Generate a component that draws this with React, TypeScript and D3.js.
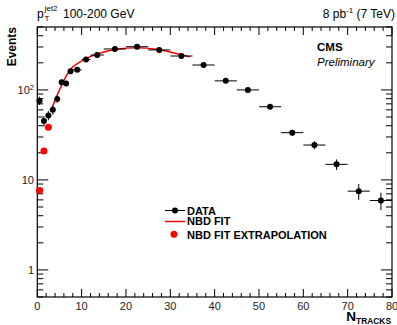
import React, { useEffect, useRef } from "react";
import * as d3 from "d3";

// data
const binCenters = [0.5, 1.5, 2.5, 3.5, 4.5, 5.5, 6.5, 7.5, 9, 11, 13.5, 17.5, 22.5, 27.5, 32.5, 37.5, 42.5, 47.5, 52.5, 57.5, 62.5, 67.5, 72.5, 77.5];
const binLow = [0, 1, 2, 3, 4, 5, 6, 7, 8, 10, 12, 15, 20, 25, 30, 35, 40, 45, 50, 55, 60, 65, 70, 75];
const binHigh = [1, 2, 3, 4, 5, 6, 7, 8, 10, 12, 15, 20, 25, 30, 35, 40, 45, 50, 55, 60, 65, 70, 75, 80];
const events = [76, 45, 52, 60, 79, 122, 118, 161, 167, 218, 244, 285, 302, 278, 238, 189, 126, 100, 65, 33.5, 24.4, 14.9, 7.5, 5.9];
const eventErr = [8, 6, 6, 7, 7, 8, 8, 8, 7, 7, 6, 5, 5, 5, 5, 4, 4, 4, 3, 2.5, 2.5, 2, 1.5, 1.3];

const fitN = [3.2, 5.5, 7.7, 11.1, 14.1, 17.9, 22.4, 26.9, 30.6, 34.4];
const fitEvents = [61, 113, 174, 224, 255, 283, 294, 283, 259, 234];

const extrapN = [0.5, 1.5, 2.5];
const extrapEvents = [7.65, 20.9, 38.5];

const xTicks = [0, 10, 20, 30, 40, 50, 60, 70, 80];
const yTicks = [1, 10, 100];

const FONT = "Liberation Sans, Arial, Helvetica, sans-serif";

function App() {
  const svgRef = useRef<SVGSVGElement>(null);

  useEffect(() => {
    const W = 397;
    const H = 325;
    const M = { left: 37.3, right: 5, top: 27, bottom: 28 };

    const svg = d3.select(svgRef.current).attr("width", W).attr("height", H);
    svg.selectAll("*").remove();
    svg.append("rect").attr("width", W).attr("height", H).attr("fill", "#fff");

    const x = d3.scaleLinear().domain([0, 80]).range([M.left, W - M.right]);
    const y = d3.scaleLog().domain([0.5, 500]).range([H - M.bottom, M.top]);

    const g = svg.append("g").attr("font-family", FONT);

    // ticks (ROOT style, inside the frame, mirrored)
    const x0 = x(0), x1 = x(80), y0 = y(0.5), y1 = y(500);
    d3.range(0, 81, 2).forEach((t) => {
      const len = t % 10 === 0 ? 8 : 4;
      g.append("line").attr("x1", x(t)).attr("x2", x(t)).attr("y1", y0).attr("y2", y0 - len).attr("stroke", "#000");
      g.append("line").attr("x1", x(t)).attr("x2", x(t)).attr("y1", y1).attr("y2", y1 + len).attr("stroke", "#000");
    });
    const yMinor: number[] = [];
    [0.1, 1, 10, 100].forEach((d) => {
      for (let k = 1; k < 10; k++) {
        const v = d * k;
        if (v >= 0.5 && v <= 500) yMinor.push(v);
      }
    });
    yMinor.forEach((v) => {
      const len = yTicks.includes(v) ? 11 : 6;
      g.append("line").attr("x1", x0).attr("x2", x0 + len).attr("y1", y(v)).attr("y2", y(v)).attr("stroke", "#000");
      g.append("line").attr("x1", x1).attr("x2", x1 - len).attr("y1", y(v)).attr("y2", y(v)).attr("stroke", "#000");
    });

    g.append("rect")
      .attr("x", x0).attr("y", y1).attr("width", x1 - x0).attr("height", y0 - y1)
      .attr("fill", "none").attr("stroke", "#000").attr("stroke-width", 1.2);

    // tick labels
    g.selectAll(".xl").data(xTicks).join("text")
      .attr("x", (d) => x(d)).attr("y", y0 + 13)
      .attr("text-anchor", "middle").attr("font-size", 11).attr("fill", "#222")
      .text((d) => d);
    yTicks.forEach((v) => {
      const t = g.append("text").attr("x", 34).attr("y", y(v) + 4)
        .attr("text-anchor", "end").attr("font-size", 11).attr("fill", "#222");
      if (v === 100) {
        t.append("tspan").text("10");
        t.append("tspan").attr("dy", -4).attr("font-size", 7.5).text("2");
      } else t.text(v);
    });

    // fit curve
    const line = d3.line<number>()
      .x((_, i) => x(fitN[i]))
      .y((d) => y(d))
      .curve(d3.curveCatmullRom);
    g.append("path").datum(fitEvents).attr("d", line).attr("fill", "none")
      .attr("stroke", "#f00").attr("stroke-width", 1.5);

    // data with error bars
    binCenters.forEach((n, i) => {
      const v = events[i];
      g.append("line").attr("x1", x(binLow[i])).attr("x2", x(binHigh[i]))
        .attr("y1", y(v)).attr("y2", y(v)).attr("stroke", "#000");
      g.append("line").attr("x1", x(n)).attr("x2", x(n))
        .attr("y1", y(v - eventErr[i])).attr("y2", y(v + eventErr[i])).attr("stroke", "#000");
    });
    g.selectAll(".pt").data(events).join("circle")
      .attr("cx", (_, i) => x(binCenters[i])).attr("cy", (d) => y(d))
      .attr("r", 3).attr("fill", "#000");

    g.selectAll(".ex").data(extrapEvents).join("circle")
      .attr("cx", (_, i) => x(extrapN[i])).attr("cy", (d) => y(d))
      .attr("r", 3.5).attr("fill", "#f00");

    // legend
    const lx = 165, lt = 187;
    g.append("line").attr("x1", lx).attr("x2", lx + 20).attr("y1", 210.5).attr("y2", 210.5).attr("stroke", "#000");
    g.append("circle").attr("cx", lx + 10).attr("cy", 210.5).attr("r", 3).attr("fill", "#000");
    g.append("line").attr("x1", lx).attr("x2", lx + 20).attr("y1", 221.5).attr("y2", 221.5).attr("stroke", "#f00").attr("stroke-width", 1.5);
    g.append("circle").attr("cx", lx + 9).attr("cy", 234.3).attr("r", 3.5).attr("fill", "#f00");
    [["DATA", 214.5], ["NBD FIT", 225], ["NBD FIT EXTRAPOLATION", 238.5]].forEach(([s, yy]) => {
      g.append("text").attr("x", lt).attr("y", yy as number)
        .attr("font-size", 11).attr("font-weight", "bold").text(s as string);
    });

    // axis titles
    g.append("text").attr("transform", "translate(16,27) rotate(-90)")
      .attr("text-anchor", "end").attr("font-size", 12).attr("font-weight", "bold").text("Events");
    const xt = g.append("text").attr("x", 391).attr("y", 321).attr("text-anchor", "end")
      .attr("font-weight", "bold").attr("font-size", 13.5);
    xt.append("tspan").text("N");
    xt.append("tspan").attr("dy", 2.5).attr("font-size", 8.4).text("TRACKS");

    // header texts
    const pt = g.append("text").attr("x", 37).attr("y", 18).attr("font-size", 12);
    pt.append("tspan").text("p");
    pt.append("tspan").attr("font-size", 8).attr("x", 44.5).attr("dy", -7).text("jet2");
    pt.append("tspan").attr("font-size", 8).attr("x", 44.5).attr("dy", 10).text("T");
    pt.append("tspan").attr("x", 63).attr("dy", -3).text("100-200 GeV");

    const lum = g.append("text").attr("x", 395).attr("y", 18).attr("text-anchor", "end").attr("font-size", 12);
    lum.append("tspan").text("8 pb");
    lum.append("tspan").attr("font-size", 8).attr("dy", -5).text("-1");
    lum.append("tspan").attr("dy", 5).text(" (7 TeV)");

    g.append("text").attr("x", 317).attr("y", 51).attr("font-size", 11.5).attr("font-weight", "bold").text("CMS");
    g.append("text").attr("x", 317).attr("y", 66).attr("font-size", 11.5).attr("font-style", "italic").text("Preliminary");
  }, []);

  return <svg ref={svgRef} style={{ position: "absolute", left: 0, top: 0 }} />;
}

export default App;
